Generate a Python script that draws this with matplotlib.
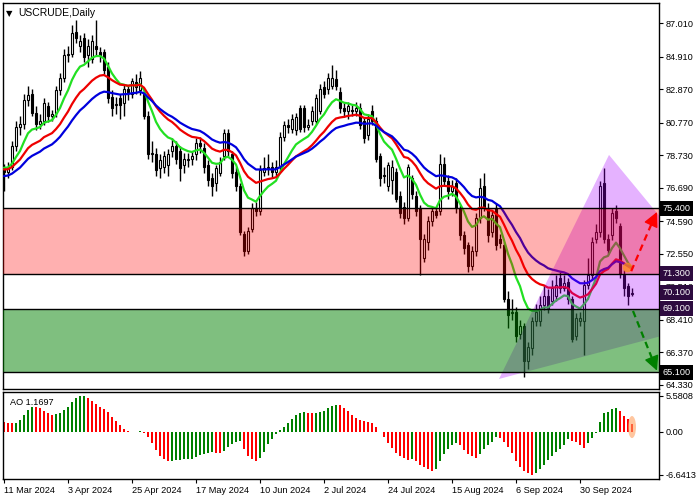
import numpy as np
import pandas as pd
import matplotlib
matplotlib.use("Agg")
import matplotlib.pyplot as plt
from matplotlib.patches import Polygon, Ellipse
from matplotlib.transforms import blended_transform_factory

plt.rcParams["font.family"] = ["Liberation Sans", "DejaVu Sans"]

# ---------------- data ----------------
opens = [
77.9,77.7,78.0,79.3,80.5,80.7,82.2,82.6,81.4,80.7,
80.9,81.8,81.2,81.4,82.8,83.6,85.0,85.1,86.5,85.6,
86.1,85.0,84.8,85.6,85.2,85.2,84.3,82.4,81.9,82.3,
82.0,82.9,82.6,83.3,82.8,82.6,81.2,78.8,78.8,77.9,
78.0,78.1,79.0,79.3,79.0,78.1,78.4,78.5,78.8,79.5,
79.2,78.1,77.3,77.0,77.6,78.7,80.1,78.8,77.7,76.8,
73.8,72.7,74.1,75.4,75.2,77.7,77.9,78.0,77.7,78.0,
79.9,80.6,80.4,80.3,81.7,81.7,80.5,80.9,80.9,81.5,
83.0,82.9,83.1,83.5,82.7,81.7,81.5,81.6,81.5,81.7,
80.9,80.0,81.5,80.9,78.7,77.5,76.8,77.2,77.7,76.2,
75.5,74.8,77.3,76.2,75.4,72.3,73.3,74.6,75.2,75.2,
78.2,77.1,76.5,77.0,75.4,73.7,73.1,71.8,72.7,74.8,
76.8,75.4,73.9,75.4,73.5,73.1,69.7,68.8,68.9,67.5,
68.0,65.8,66.6,68.3,68.3,69.3,69.9,69.6,69.9,71.0,
70.4,70.8,69.7,67.4,68.3,68.3,70.6,71.2,73.5,73.9,
77.0,73.5,73.7,75.2,74.3,71.2,70.5,70.0]

highs = [
78.2,78.3,79.6,80.9,81.2,82.6,83.1,82.9,81.8,81.3,
82.3,82.1,81.6,83.1,83.9,85.4,85.6,86.9,87.2,86.3,
86.4,86.0,86.3,87.2,85.5,85.4,84.6,82.8,82.4,82.6,
83.2,83.1,83.6,83.8,84.0,82.9,81.5,79.6,79.2,78.8,
79.0,79.1,79.8,79.6,79.3,78.9,78.9,79.0,79.8,79.9,
79.5,78.4,77.6,78.1,78.6,80.4,80.4,79.0,78.0,77.0,
74.0,74.2,75.7,75.8,78.1,78.6,78.8,78.3,78.4,80.2,
80.9,81.0,81.3,81.4,81.9,81.9,81.0,81.8,82.6,83.2,
83.4,83.9,84.4,84.1,83.0,82.0,82.1,81.9,82.1,82.0,
81.1,81.3,81.9,81.1,78.9,78.0,78.3,78.4,77.9,76.5,
75.8,78.2,77.5,76.5,75.6,73.8,74.9,75.4,75.5,78.8,
78.6,77.5,77.2,77.3,75.6,74.0,73.3,73.0,75.1,77.3,
77.6,75.7,75.3,75.7,73.8,73.3,70.2,69.7,69.2,68.4,
68.2,67.0,68.6,69.4,69.9,70.6,70.3,70.9,71.2,71.4,
71.2,71.0,69.9,68.8,68.9,70.9,72.3,73.6,74.4,77.1,
77.9,73.8,75.4,75.6,74.5,71.5,70.7,70.4]

lows = [
76.5,77.3,77.8,79.0,80.0,80.4,81.8,81.2,80.3,80.4,
80.6,80.8,80.9,81.1,82.5,83.3,84.6,84.9,85.8,85.2,
84.6,84.3,84.5,85.0,84.6,83.8,82.0,81.2,81.3,81.0,
81.2,82.2,82.3,82.6,82.5,81.0,78.5,78.3,77.4,77.3,
77.6,77.4,78.6,78.2,77.1,77.6,78.0,78.1,78.4,78.9,
77.6,76.8,76.2,76.5,77.4,78.4,78.7,77.3,76.5,73.7,
72.4,72.5,73.9,74.9,75.0,77.4,77.5,77.3,77.4,77.8,
79.6,80.1,80.1,80.0,80.2,80.2,80.3,80.6,80.7,81.3,
82.3,82.6,82.9,82.8,81.4,81.1,81.0,81.2,81.2,80.4,
79.5,79.7,80.6,78.3,76.8,77.0,76.5,76.3,75.8,74.8,
74.4,74.6,76.0,74.9,71.2,72.0,72.8,74.3,74.8,75.0,
76.8,76.0,76.2,75.1,73.4,72.5,71.4,71.5,72.4,74.5,
75.2,73.3,73.6,72.8,72.9,69.5,67.9,68.4,67.0,67.2,
64.8,65.3,66.2,68.0,68.0,69.0,68.8,69.3,69.6,70.1,
70.2,69.4,67.0,67.1,68.0,66.2,70.3,70.9,73.2,73.6,
73.2,72.5,73.4,74.5,71.0,69.9,69.3,69.9]

closes = [
77.7,78.0,79.3,80.5,80.7,82.2,82.5,81.4,80.7,80.9,
82.0,81.2,81.3,82.8,83.6,85.0,85.1,86.4,86.1,85.9,
84.9,85.6,85.9,85.4,85.0,84.1,82.3,81.7,81.9,81.9,
82.9,82.7,83.4,83.0,83.6,81.2,78.8,78.8,77.8,78.4,
78.7,78.8,79.3,78.5,77.9,78.5,78.5,78.7,79.5,79.3,
78.0,77.2,76.8,77.9,78.3,80.1,79.0,77.6,76.8,73.9,
72.7,74.0,75.4,75.2,77.8,77.9,78.0,77.7,78.0,79.9,
80.6,80.5,81.0,81.1,80.4,80.5,80.6,81.5,82.3,82.9,
82.6,83.6,83.6,83.1,81.7,81.5,81.8,81.5,81.7,80.6,
79.8,81.0,80.9,78.5,77.3,77.4,78.1,78.0,76.0,75.1,
74.8,78.0,76.3,75.2,73.5,73.5,74.6,75.2,75.0,78.2,
77.1,76.5,76.8,75.4,73.7,72.9,71.8,72.7,74.8,76.7,
75.5,73.7,75.0,73.1,73.2,69.7,68.7,68.9,67.4,68.0,
65.8,66.7,68.3,68.9,69.3,69.9,69.1,70.4,70.6,70.4,
70.7,69.7,67.2,68.5,68.5,70.6,71.2,73.3,73.9,76.8,
73.5,72.8,75.1,74.8,71.3,70.4,69.9,70.1]

ao_values = [
1.59,1.33,1.30,1.44,1.85,2.62,3.38,3.90,3.79,3.64,
3.28,2.87,2.67,2.72,2.87,3.38,3.90,4.56,5.18,5.54,
5.58,5.28,4.77,4.31,3.90,3.49,3.13,2.36,1.69,1.08,
0.41,0.10,0.02,0.05,0.15,-0.10,-0.82,-1.64,-2.77,-3.69,
-4.21,-4.51,-4.46,-4.31,-4.26,-4.24,-4.22,-4.18,-3.90,-3.59,
-3.38,-3.18,-3.03,-3.18,-3.23,-2.87,-2.26,-1.85,-1.49,-1.44,
-2.67,-3.79,-4.21,-4.56,-4.05,-3.03,-1.85,-1.03,-0.31,0.31,
0.82,1.33,1.95,2.62,2.97,3.08,2.87,2.85,2.97,3.13,
3.28,3.64,4.00,4.15,4.10,3.64,3.28,2.62,2.10,1.85,
1.69,1.54,1.44,0.82,0.05,-0.82,-1.64,-2.51,-3.18,-3.69,
-4.10,-4.31,-4.21,-4.56,-5.08,-5.44,-5.74,-5.95,-5.74,-4.46,
-3.38,-2.67,-2.00,-1.74,-2.00,-2.77,-3.38,-3.79,-3.95,-3.38,
-2.67,-2.00,-1.49,-0.82,-0.92,-1.49,-2.26,-3.18,-4.41,-5.44,
-6.10,-6.36,-6.64,-6.36,-5.74,-5.08,-4.31,-3.69,-3.03,-2.56,
-2.05,-1.13,-1.33,-1.54,-2.00,-2.51,-1.74,-0.97,-0.10,1.59,
2.87,3.13,3.49,3.64,3.28,2.46,1.95,1.17]
ao_label = "AO 1.1697"

ma_spans = [10, 20, 30]             # green, red, blue
ma_start = [78.0, 77.85, 77.4]      # value of each average before the first bar
ma_colors = ["#22E022", "#EE0000", "#0000DD"]

tick_positions = [0, 16, 32, 48, 64, 80, 96, 112, 128, 144]
tick_dates = ["11 Mar 2024", "3 Apr 2024", "25 Apr 2024", "17 May 2024", "10 Jun 2024",
              "2 Jul 2024", "24 Jul 2024", "15 Aug 2024", "6 Sep 2024", "30 Sep 2024"]
price_ticks = [87.010, 84.910, 82.870, 80.770, 78.730, 76.690, 74.590,
               72.550, 70.510, 68.410, 66.370, 64.330]

resistance_zone = (71.3, 75.4)
support_zone = (65.1, 69.1)
marked_levels = [(75.4, "#000000"), (71.3, "#2D0B3F"), (70.1, "#2D0B3F"),
                 (69.1, "#2D0B3F"), (65.1, "#000000")]
triangle = [(123.75, 64.68), (151.25, 78.75), (184.25, 68.7)]
ao_marks = [5.5808, 0.0, -6.6413]
ao_mark_labels = ["5.5808", "0.00", "-6.6413"]

# ---------------- figure ----------------
fig = plt.figure(figsize=(7, 5), dpi=100)
W, H = 700, 500
def rect(x0, y0, x1, y1):
    return [x0 / W, 1 - y1 / H, (x1 - x0) / W, (y1 - y0) / H]

ax = fig.add_axes(rect(3, 3, 659, 389))
ax2 = fig.add_axes(rect(3, 392, 659, 479), sharex=ax)
FS = 6.6

n = len(closes)
x = np.arange(n)
o = np.array(opens); h = np.array(highs); l = np.array(lows); c = np.array(closes)

# candles
ax.vlines(x, l, h, color="black", lw=1, zorder=2)
up = c >= o
body_lo = np.minimum(o, c)
body_h = np.maximum(np.abs(c - o), 0.04)
ax.bar(x[up], body_h[up], bottom=body_lo[up], width=0.7, facecolor="white",
       edgecolor="black", lw=0.8, zorder=3)
ax.bar(x[~up], body_h[~up], bottom=body_lo[~up], width=0.7, facecolor="black",
       edgecolor="black", lw=0.8, zorder=3)

# moving averages
for span, start, col in zip(ma_spans, ma_start, ma_colors):
    s = pd.Series([start] + closes).ewm(span=span, adjust=False).mean().values[1:]
    ax.plot(x, s, color=col, lw=1.6, zorder=4, solid_capstyle="round")

# triangle and zones (translucent overlays)
ax.add_patch(Polygon(triangle, closed=True, facecolor="#AA00FF", alpha=0.3,
                     edgecolor="none", zorder=5))
ax.axhspan(*resistance_zone, facecolor="#FF0000", alpha=0.31, lw=0, zorder=6)
ax.axhspan(*support_zone, facecolor="#008000", alpha=0.5, lw=0, zorder=6)
for lvl in (75.4, 71.3, 69.1, 65.1):
    ax.axhline(lvl, color="black", lw=1, zorder=7)

# orange marker at end of averages
ax.plot([155.8], [71.7], "o", color="#FF8C1A", alpha=0.75, ms=7, mec="none", zorder=8)

# projected arrows
def dashed_arrow(x0, y0, xb, yb, xt, yt, col):
    ax.plot([x0, xb], [y0, yb], ls=(0, (3, 2)), color=col, lw=1.6, zorder=9)
    ax.annotate("", xy=(xt, yt), xytext=(xb, yb),
                arrowprops=dict(arrowstyle="-|>,head_length=0.9,head_width=0.45", color=col,
                                lw=1.0, shrinkA=0, shrinkB=0, mutation_scale=10),
                zorder=10)

dashed_arrow(156.8, 71.45, 162.1, 74.55, 163.25, 75.17, "#FF0000")
dashed_arrow(157.25, 68.95, 162.2, 65.85, 163.25, 65.2, "#008000")

ax.set_xlim(-0.25, 163.75)
ax.set_ylim(64.05, 88.29)

# right axis labels
ax.yaxis.tick_right()
ax.set_yticks(price_ticks)
ax.set_yticklabels([f"{v:.3f}" for v in price_ticks])
ax.tick_params(axis="y", direction="out", length=3, width=0.8, labelsize=FS, pad=1.5)
ax.tick_params(axis="x", bottom=False, labelbottom=False)
tr = blended_transform_factory(ax.transAxes, ax.transData)
for val, bg in marked_levels:
    ax.text(1.0055, val, f"{val:.3f}", transform=tr, ha="left", va="center",
            fontsize=FS, color="white", clip_on=False, zorder=20,
            bbox=dict(boxstyle="square,pad=0.3", fc=bg, ec="none"))

for sp in ax.spines.values():
    sp.set_linewidth(1)

ax.text(0.004, 0.985, "\u25BC", transform=ax.transAxes, fontsize=6, ha="left", va="top",
        family="DejaVu Sans")
ax.text(0.023, 0.988, "USCRUDE,Daily", transform=ax.transAxes, fontsize=7.5,
        ha="left", va="top")

# ---------------- AO panel ----------------
ao = np.array(ao_values)
rising = np.r_[False, np.diff(ao) > 0]
cols = np.where(rising, "#008000", "#FF0000")
ax2.bar(x, ao, width=0.72, color=cols, zorder=2)
ax2.add_patch(Ellipse((157, 0.75), 2.0, 3.4, facecolor="#FFA060", alpha=0.6,
                      edgecolor="none", zorder=3))
ax2.set_ylim(-7.26, 6.15)
ax2.yaxis.tick_right()
ax2.set_yticks(ao_marks)
ax2.set_yticklabels(ao_mark_labels)
ax2.tick_params(axis="y", direction="out", length=3, width=0.8, labelsize=FS, pad=1.5)
ax2.set_xticks(tick_positions)
ax2.set_xticklabels(tick_dates, ha="left")
ax2.tick_params(axis="x", direction="out", length=3, width=0.8, labelsize=FS, pad=2)
ax2.text(0.01, 0.93, ao_label, transform=ax2.transAxes, fontsize=FS, ha="left", va="top")
for sp in ax2.spines.values():
    sp.set_linewidth(1)

fig.savefig("out.png", dpi=100)
